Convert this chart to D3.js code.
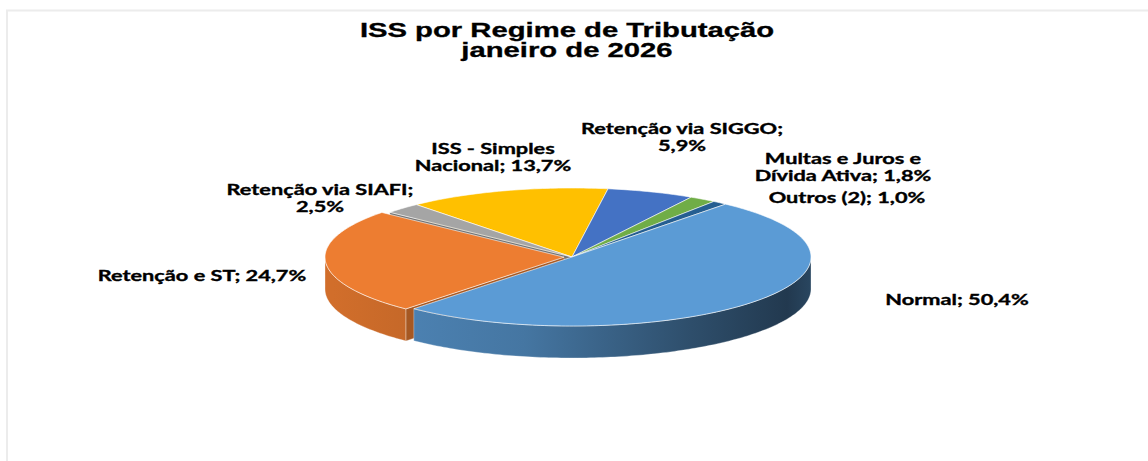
<!DOCTYPE html>
<html>
<head>
<meta charset="utf-8">
<script src="https://cdn.jsdelivr.net/npm/d3@7"></script>
<style>
  body { margin: 0; background: #fff; }
  svg { display: block; }
</style>
</head>
<body>
<div id="chart"></div>
<script>
// Data
const categories = ["Normal", "Retenção e ST", "Retenção via SIAFI", "ISS - Simples Nacional",
    "Retenção via SIGGO", "Multas e Juros e Dívida Ativa", "Outros (2)"];
const shares = [50.4, 24.7, 2.5, 13.7, 5.9, 1.8, 1.0];
const colors = ["#5B9BD5", "#ED7D31", "#A5A5A5", "#FFC000", "#4472C4", "#70AD47", "#255E91"];
// label text, {v} is replaced by the share
const labelLines = [
    ["Normal; {v}"],
    ["Retenção e ST; {v}"],
    ["Retenção via SIAFI;", "{v}"],
    ["ISS - Simples", "Nacional; {v}"],
    ["Retenção via SIGGO;", "{v}"],
    ["Multas e Juros e", "Dívida Ativa; {v}"],
    ["Outros (2); {v}"]
];
const titleLines = ["ISS por Regime de Tributação", "janeiro de 2026"];

// Layout
const width = 1148, height = 461;
const cx = 572, cy = 257, rx = 239, ry = 69, depth = 32;
const startDeg = 40;
const explodeIndex = 1, explodeDist = 8;
const labelPos = [[957, 299], [202, 275], [320, 189], [493, 148], [682, 128], [843, 158], [847, 197]];
const lineGap = 17.5;
const labelScale = 1.45, titleScale = 1.5;

const fmt = v => d3.format(".1f")(v).replace(".", ",") + "%";
const rad = d => d * Math.PI / 180;

const svg = d3.select("#chart").append("svg")
    .attr("width", width)
    .attr("height", height);

svg.append("rect").attr("width", width).attr("height", height).attr("fill", "#fff");

// light frame
svg.append("path")
    .attr("d", `M7,${height} V10.5 H${width}`)
    .attr("fill", "none")
    .attr("stroke", "#ececec")
    .attr("stroke-width", 2);

// Title
const title = svg.append("g").attr("transform", `translate(567,0)`);
titleLines.forEach((t, i) => {
    title.append("text")
        .attr("transform", `translate(0,${37 + i * 19.5}) scale(${titleScale},1)`)
        .attr("text-anchor", "middle")
        .attr("font-family", "'Liberation Sans', Arial, sans-serif")
        .attr("font-weight", "bold")
        .attr("font-size", 19.5)
        .attr("fill", "#000")
        .attr("stroke", "#000")
        .attr("stroke-width", 0.3)
        .text(t);
});

// Pie angles
const pie = d3.pie()
    .sort(null)
    .value(d => d)
    .startAngle(rad(startDeg))
    .endAngle(rad(startDeg + 360));
const arcs = pie(shares);

const defs = svg.append("defs");
const sideShade = [[0, 0.88], [0.4, 0.76], [0.75, 0.5], [0.95, 0.37], [1, 0.45]];
colors.forEach((c, i) => {
    const g = defs.append("linearGradient")
        .attr("id", "side" + i)
        .attr("gradientUnits", "userSpaceOnUse")
        .attr("x1", cx - rx).attr("x2", cx + rx)
        .attr("y1", 0).attr("y2", 0);
    const base = d3.rgb(c);
    sideShade.forEach(([o, k]) => {
        g.append("stop")
            .attr("offset", o)
            .attr("stop-color", d3.rgb(base.r * k, base.g * k, base.b * k).formatHex());
    });
});

const line = d3.line();

function offsetOf(d, i) {
    if (i !== explodeIndex) return [0, 0];
    const m = (d.startAngle + d.endAngle) / 2;
    return [explodeDist * Math.sin(m), -explodeDist * Math.cos(m) * ry / rx];
}
function pt(theta, r, z, off) {
    return [cx + off[0] + rx * r * Math.sin(theta), cy + off[1] - ry * r * Math.cos(theta) + z];
}
function arcPts(a, b, z, off) {
    const n = Math.max(2, Math.ceil((b - a) / rad(1)));
    return d3.range(n + 1).map(k => pt(a + (b - a) * k / n, 1, z, off));
}

// draw back slices first
const order = d3.range(arcs.length).sort((i, j) => {
    const mi = (arcs[i].startAngle + arcs[i].endAngle) / 2;
    const mj = (arcs[j].startAngle + arcs[j].endAngle) / 2;
    return Math.cos(mj) - Math.cos(mi);
});

const pieG = svg.append("g");
order.forEach(i => {
    const d = arcs[i];
    const off = offsetOf(d, i);
    const a = d.startAngle, b = d.endAngle;
    const g = pieG.append("g");
    const c = d3.rgb(colors[i]);
    const faceCol = d3.rgb(c.r * 0.7, c.g * 0.7, c.b * 0.7).formatHex();

    // radial faces
    const faces = [];
    if (Math.sin(a) < 0) faces.push(a);
    if (Math.sin(b) > 0) faces.push(b);
    faces.forEach(t => {
        const p = [pt(t, 0, 0, off), pt(t, 1, 0, off), pt(t, 1, depth, off), pt(t, 0, depth, off)];
        g.append("path")
            .attr("d", line(p) + "Z")
            .attr("fill", faceCol)
            .attr("stroke", "#fff").attr("stroke-opacity", 0.5).attr("stroke-width", 0.6);
    });

    // outer wall, front part only
    [[Math.PI / 2, 3 * Math.PI / 2], [Math.PI / 2 + 2 * Math.PI, 3 * Math.PI / 2 + 2 * Math.PI]].forEach(([lo, hi]) => {
        const s = Math.max(a, lo), e = Math.min(b, hi);
        if (e <= s) return;
        const p = arcPts(s, e, 0, off).concat(arcPts(s, e, depth, off).reverse());
        g.append("path")
            .attr("d", line(p) + "Z")
            .attr("fill", `url(#side${i})`)
            .attr("stroke", "#fff").attr("stroke-opacity", 0.45).attr("stroke-width", 0.7);
    });

    // top
    const top = [pt(a, 0, 0, off)].concat(arcPts(a, b, 0, off));
    g.append("path")
        .attr("d", line(top) + "Z")
        .attr("fill", colors[i])
        .attr("stroke", "#fff").attr("stroke-opacity", 0.75).attr("stroke-width", 0.8);
});

// Labels
const labels = svg.append("g")
    .attr("font-family", "Lato, 'Open Sans', sans-serif")
    .attr("font-weight", "bold")
    .attr("font-size", 15)
    .attr("fill", "#000")
    .attr("stroke", "#000")
    .attr("stroke-width", 0.35);
labelLines.forEach((lines, i) => {
    const [x, y] = labelPos[i];
    lines.forEach((t, k) => {
        labels.append("text")
            .attr("transform", `translate(${x},${y + 5.5 + k * lineGap}) scale(${labelScale},1)`)
            .attr("text-anchor", "middle")
            .text(t.replace("{v}", fmt(shares[i])));
    });
});
</script>
</body>
</html>
